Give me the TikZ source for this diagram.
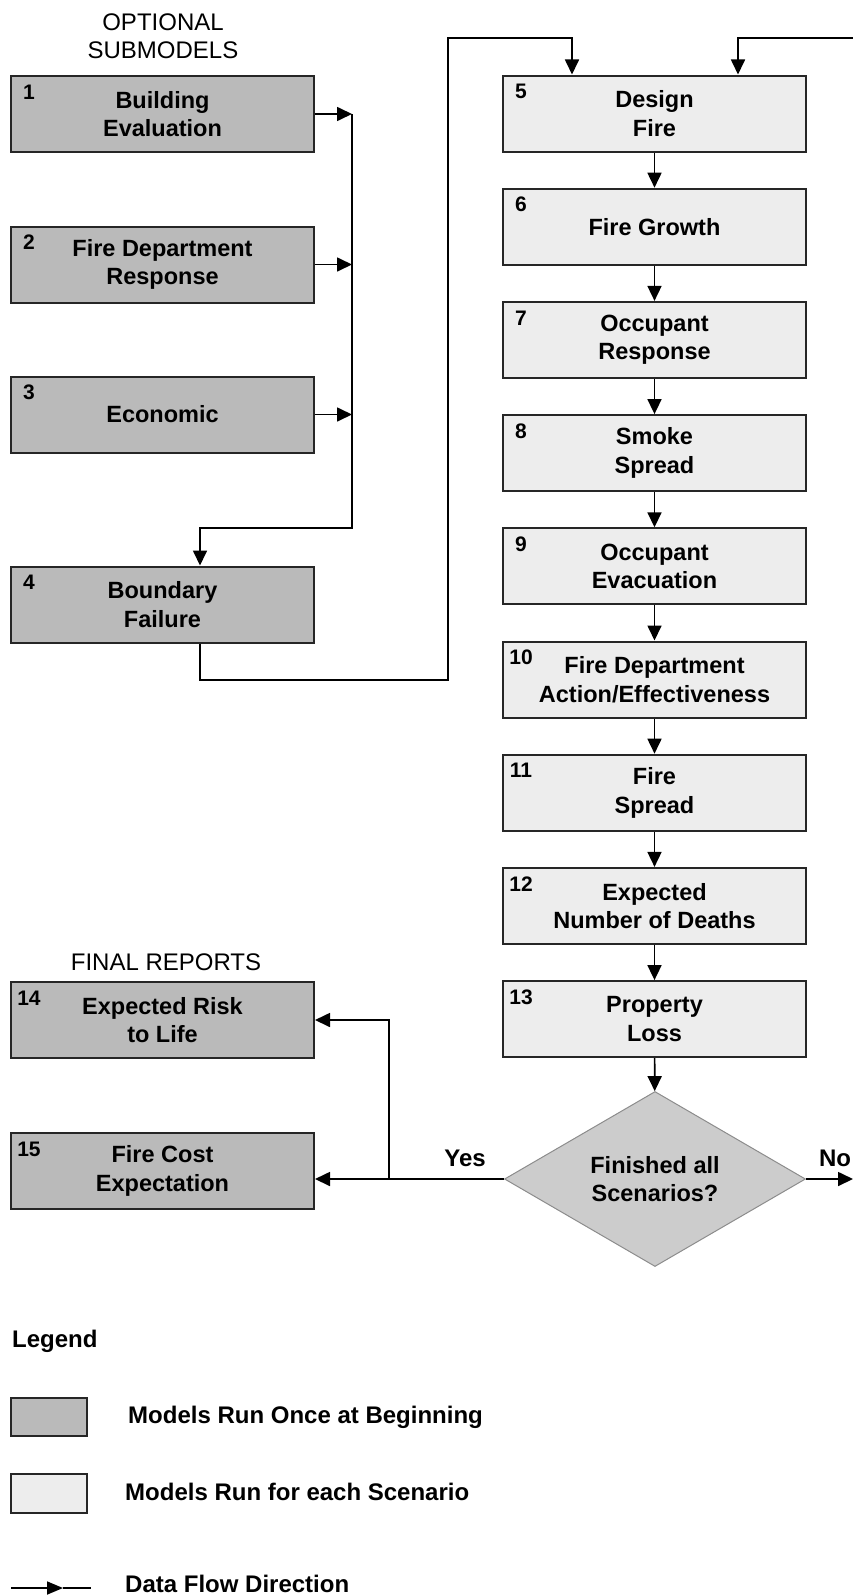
\documentclass[tikz,border=0pt]{standalone}
\usepackage{fontspec}
\setmainfont{Liberation Sans}
\usetikzlibrary{shapes.geometric,arrows.meta}

\begin{document}
\begin{tikzpicture}[x=1pt,y=-1pt,
    box/.style={draw=black!85,line width=2pt,minimum width=303pt,minimum height=76pt,inner sep=0pt,align=center,font=\fontsize{23.5}{28.5}\selectfont\bfseries},
    once/.style={box,fill=black!27},
    scen/.style={box,fill=black!7},
    dec/.style={diamond,draw=black!45,line width=1pt,fill=black!20,minimum width=301pt,minimum height=166pt,inner sep=0pt,align=center,font=\fontsize{23.5}{28.5}\selectfont\bfseries},
    num/.style={anchor=center,inner sep=0pt,xshift=19pt,yshift=-17pt,font=\fontsize{21}{21}\selectfont\bfseries},
    hdr/.style={inner sep=0pt,align=center,font=\fontsize{24}{28}\selectfont},
    lbl/.style={inner sep=0pt,font=\fontsize{24}{28}\selectfont\bfseries},
    arr/.style={-{Triangle[length=15pt,width=14pt]},line width=1.7pt},
  ]
  \useasboundingbox (0,0) rectangle (853,1595);

  \node[hdr] (hOpt) at (163,36) {OPTIONAL\\SUBMODELS};
  \node[once,label={[num]north west:1}] (B1) at (162.5,114) {Building\\Evaluation};
  \node[once,label={[num]north west:2}] (B2) at (162.5,264.5) {Fire Department\\Response};
  \node[once,label={[num]north west:3}] (B3) at (162.5,414.5) {Economic};
  \node[once,label={[num]north west:4}] (B4) at (162.5,604.5) {Boundary\\Failure};

  \foreach \n/\t [count=\i from 0] in {5/{Design\\Fire},6/{Fire Growth},7/{Occupant\\Response},8/{Smoke\\Spread},9/{Occupant\\Evacuation},10/{Fire Department\\Action/Effectiveness},11/{Fire\\Spread},12/{Expected\\Number of Deaths},13/{Property\\Loss}}{
    \node[scen,label={[num]north west:\n}] (B\n) at (654.5,{113.5+\i*113.2}) {\t};
  }
  \foreach \a/\b in {5/6,6/7,7/8,8/9,9/10,10/11,11/12,12/13}
    \draw[arr] (B\a) -- (B\b);

  \node[dec] (D) at (655,1179) {Finished all\\Scenarios?};
  \node[hdr] (hFin) at (166,962) {FINAL REPORTS};
  \node[once,label={[num]north west:14}] (B14) at (162.5,1020) {Expected Risk\\to Life};
  \node[once,label={[num]north west:15}] (B15) at (162.5,1171) {Fire Cost\\Expectation};
  \node[lbl] (yes) at (465,1158) {Yes};
  \node[lbl] (no) at (835,1158) {No};

  \coordinate (bus) at (352,528);
  \coordinate (c4) at (200,528);
  \coordinate (r1) at (448,680);
  \coordinate (r2) at (572,38);
  \coordinate (e1) at (853,38);
  \coordinate (e2) at (738,38);
  \coordinate (y1) at (389,1179);
  \coordinate (e3) at (853,1179);
  \draw[arr] (B1) -- (B1 -| bus);
  \draw[arr] (B2) -- (B2 -| bus);
  \draw[arr] (B3) -- (B3 -| bus);
  \draw[arr] (B1 -| bus) -- (bus) -- (c4) -- (c4 |- B4.north);
  \draw[arr] (c4 |- B4.south) |- (r1) |- (r2) -- (r2 |- B5.north);
  \draw[arr] (e1) -- (e2) -- (e2 |- B5.north);
  \draw[arr] (B13) -- (D);
  \draw[arr] (D.west) -- (D.west -| B15.east);
  \draw[arr] (y1) |- (B14);
  \draw[arr] (D.east) -- (e3);

  \node[lbl,anchor=west] (leg) at (12,1341) {Legend};
  \node[once,minimum width=76pt,minimum height=38pt] (L1) at (49,1417) {};
  \node[lbl,anchor=west] (t1) at (128,1417) {Models Run Once at Beginning};
  \node[scen,minimum width=76pt,minimum height=39pt] (L2) at (49,1493) {};
  \node[lbl,anchor=west] (t2) at (125,1492) {Models Run for each Scenario};
  \coordinate (a1) at (11,1588);
  \coordinate (a2) at (63,1588);
  \coordinate (a3) at (91,1588);
  \draw[arr,-{Triangle[length=16pt,width=13pt]}] (a1) -- (a2);
  \draw[line width=1.7pt] (a2) -- (a3);
  \node[lbl,anchor=west] (t3) at (125,1584) {Data Flow Direction};
\end{tikzpicture}
\end{document}
